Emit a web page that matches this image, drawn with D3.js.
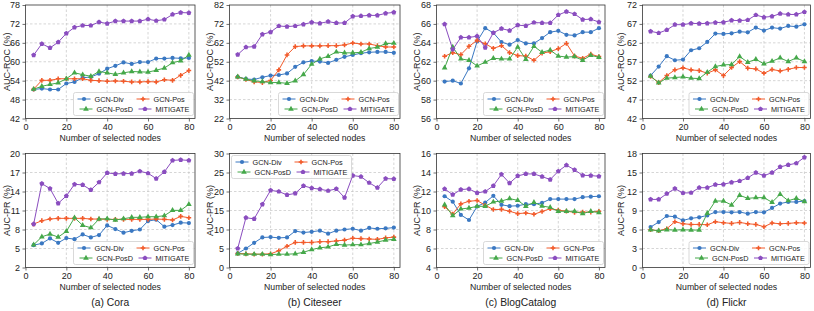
<!DOCTYPE html>
<html><head><meta charset="utf-8">
<script src="https://cdn.jsdelivr.net/npm/d3@7"></script>
<style>
body{margin:0;background:#fff;}
svg text{font-family:"Liberation Sans",Arial,sans-serif;fill:#222;}
</style></head>
<body><svg id="chart" width="814" height="311"></svg>
<script>
const nodes = [4,8,12,16,20,24,28,32,36,40,44,48,52,56,60,64,68,72,76,80];
const seriesNames = ["GCN-Div","GCN-Pos","GCN-PosD","MITIGATE"];
const captions = ["(a) Cora","(b) Citeseer","(c) BlogCatalog","(d) Flickr"];

// Cora AUC-ROC
const coraRocDiv  = [51.2,51.5,51.2,51.2,53.1,53.6,54.9,55.2,56.2,57.8,58.7,59.8,59.3,59.9,59.9,61.0,61.0,61.2,61.1,61.2];
const coraRocPos  = [51.3,54.1,54.1,54.6,54.6,54.6,54.6,54.1,54.0,53.8,53.9,53.8,53.6,53.6,53.7,53.6,54.3,54.1,55.7,57.2];
const coraRocPosD = [51.3,52.2,52.8,53.3,54.6,56.5,55.9,55.4,56.9,56.5,56.0,56.5,56.9,56.8,56.7,57.3,58.0,59.7,60.3,62.1];
const coraRocMit  = [62.1,65.7,64.4,66.2,69.0,70.9,71.5,71.5,72.6,72.1,72.9,72.9,72.9,72.9,73.5,73.0,73.4,75.0,75.6,75.5];
// Citeseer AUC-ROC
const citeRocDiv  = [44.0,42.9,42.6,43.8,44.7,45.0,45.8,49.3,51.7,52.4,52.1,51.4,53.0,54.6,55.6,56.5,57.0,57.2,57.2,56.7];
const citeRocPos  = [44.0,42.6,41.4,41.0,42.1,47.7,55.6,60.0,60.4,60.4,60.4,60.5,60.5,60.9,61.9,61.4,61.4,60.5,59.8,59.8];
const citeRocPosD = [44.0,42.8,41.9,41.5,41.0,41.0,40.6,41.9,45.2,50.7,53.5,54.9,57.2,56.7,56.7,57.0,59.0,59.7,61.6,61.8];
const citeRocMit  = [55.8,59.7,60.0,66.5,67.7,70.9,70.6,70.9,71.8,72.8,72.3,73.2,72.5,72.5,76.0,76.2,76.5,76.5,77.6,78.1];
// BlogCatalog AUC-ROC
const blogRocDiv  = [59.9,60.0,59.7,61.3,64.15,65.55,65.06,64.08,63.8,64.3,63.94,63.94,64.5,65.13,65.27,64.85,64.78,65.13,65.13,65.55];
const blogRocPos  = [62.58,62.96,62.75,63.63,64.26,63.9,63.42,63.7,62.96,62.65,62.6,62.16,62.9,63.07,63.38,63.94,62.6,62.37,62.8,62.54];
const blogRocPosD = [61.35,63.56,62.3,62.16,61.56,61.95,62.37,62.3,62.3,63.56,62.26,63.63,63.0,63.24,62.6,62.5,62.54,62.16,62.68,62.47];
const blogRocMit  = [65.97,63.3,64.57,64.57,64.7,63.5,65.06,65.5,65.3,65.87,65.8,66.15,66.1,66.1,66.95,67.3,67.05,66.46,66.5,66.2];
// Flickr AUC-ROC
const flickRocDiv  = [53.35,55.73,58.46,57.4,57.58,60.04,60.57,62.24,64.44,64.35,64.52,64.96,64.79,66.02,65.23,66.02,65.76,66.46,66.28,66.9];
const flickRocPos  = [53.1,51.5,53.35,54.85,55.38,54.85,54.67,53.97,54.85,53.35,55.47,57.05,55.3,55.1,53.97,54.94,54.59,55.0,55.47,55.47];
const flickRocPosD = [53.18,51.42,52.65,52.83,53.0,52.65,52.56,54.23,55.73,56.17,56.26,58.37,56.87,57.66,56.43,57.14,58.02,57.05,58.02,57.05];
const flickRocMit  = [65.05,64.6,65.4,66.8,66.8,67.16,67.07,67.16,67.34,67.43,67.95,67.87,68.04,69.36,68.75,69.0,69.7,69.5,69.5,70.15];
// Cora AUC-PR
const coraPrDiv  = [5.53,5.8,6.59,5.9,6.64,6.48,7.22,6.75,7.12,8.65,8.07,7.49,7.8,8.0,9.33,9.55,8.44,8.7,9.07,9.02];
const coraPrPos  = [8.86,9.39,9.65,9.76,9.76,9.76,9.76,9.65,9.65,9.6,9.6,9.6,9.6,9.6,9.6,9.65,9.6,9.5,10.07,9.86];
const coraPrPosD = [5.59,6.85,7.28,6.8,7.7,9.86,8.65,8.28,9.65,9.7,9.5,9.7,9.92,9.92,10.02,10.02,10.18,11.02,11.02,11.97];
const coraPrMit  = [8.86,15.25,14.46,12.13,13.3,15.14,15.04,14.25,15.46,16.94,16.78,16.83,16.83,17.2,16.88,16.04,17.1,18.9,19.0,18.9];
// Citeseer AUC-PR
const citePrDiv  = [3.7,5.0,6.5,7.9,8.0,7.8,7.9,9.6,9.2,9.4,9.7,8.9,9.7,10.0,10.2,9.7,10.4,10.2,10.3,10.5];
const citePrPos  = [3.7,3.6,3.5,3.5,3.6,4.4,5.6,6.6,6.6,6.6,6.8,6.8,7.0,7.2,7.7,7.6,7.5,7.4,7.8,8.0];
const citePrPosD = [3.6,3.5,3.5,3.5,3.4,3.5,3.5,3.6,4.0,4.7,5.2,5.4,6.1,5.9,6.0,6.0,6.3,6.7,7.2,7.4];
const citePrMit  = [5.0,13.1,12.8,16.6,20.3,20.0,19.1,19.5,21.5,20.9,20.6,20.2,20.7,18.4,24.2,23.9,22.3,21.0,23.4,23.3];
// BlogCatalog AUC-PR
const blogPrDiv  = [11.5,10.93,9.53,9.0,10.42,10.84,11.55,10.6,10.46,10.5,10.67,10.67,10.8,11.2,11.2,11.2,11.2,11.4,11.46,11.5];
const blogPrPos  = [10.4,9.63,10.7,10.97,11.05,10.55,10.1,10.12,9.92,9.67,9.74,9.6,9.9,10.18,10.04,9.93,9.8,9.83,9.83,9.92];
const blogPrPosD = [10.6,9.45,10.16,10.26,10.44,10.44,10.9,11.0,11.25,11.07,10.44,10.86,10.47,10.33,9.92,9.92,9.92,9.67,9.92,9.78];
const blogPrMit  = [12.27,11.67,12.2,12.27,11.85,12.0,12.6,13.8,12.88,13.64,13.85,13.85,13.57,13.26,14.13,14.77,14.28,13.7,13.68,13.6];
// Flickr AUC-PR
const flickPrDiv  = [6.38,7.18,8.13,8.02,7.44,7.76,7.92,8.23,8.76,8.76,8.71,8.76,8.5,8.76,8.71,9.4,10.1,10.35,10.35,10.5];
const flickPrPos  = [5.96,5.8,6.12,7.23,6.91,6.8,6.8,6.75,7.23,7.07,6.96,7.12,6.91,6.8,6.44,7.02,6.91,6.96,7.07,7.02];
const flickPrPosD = [5.96,5.8,5.96,5.91,5.96,5.91,5.91,8.55,10.5,10.5,9.87,11.4,10.92,11.03,11.03,10.3,11.56,10.55,10.92,10.4];
const flickPrMit  = [10.75,10.75,11.65,12.45,11.76,11.8,12.6,12.6,13.08,13.13,13.45,13.66,14.14,14.98,14.5,14.98,15.88,16.2,16.46,17.4];

// tick labels
const xTicks = [0,20,40,60,80];
const coraRocTicks  = [42,48,54,60,66,72,78];
const citeRocTicks  = [22,32,42,52,62,72,82];
const blogRocTicks  = [56,58,60,62,64,66,68];
const flickRocTicks = [42,47,52,57,62,67,72];
const coraPrTicks   = [2,5,8,11,14,17,20];
const citePrTicks   = [0,5,10,15,20,25,30];
const blogPrTicks   = [4,6,8,10,12,14,16];
const flickPrTicks  = [0,3,6,9,12,15,18];

const colors = ["#3a78c2","#f25a2a","#45a84a","#8a4dbf"];

const panels = [
  {row:0,col:0,ylab:"AUC-ROC (%)",ticks:coraRocTicks,data:[coraRocDiv,coraRocPos,coraRocPosD,coraRocMit],leg:"br"},
  {row:0,col:1,ylab:"AUC-ROC (%)",ticks:citeRocTicks,data:[citeRocDiv,citeRocPos,citeRocPosD,citeRocMit],leg:"br"},
  {row:0,col:2,ylab:"AUC-ROC (%)",ticks:blogRocTicks,data:[blogRocDiv,blogRocPos,blogRocPosD,blogRocMit],leg:"br"},
  {row:0,col:3,ylab:"AUC-ROC (%)",ticks:flickRocTicks,data:[flickRocDiv,flickRocPos,flickRocPosD,flickRocMit],leg:"br"},
  {row:1,col:0,ylab:"AUC-PR (%)",ticks:coraPrTicks,data:[coraPrDiv,coraPrPos,coraPrPosD,coraPrMit],leg:"br"},
  {row:1,col:1,ylab:"AUC-PR (%)",ticks:citePrTicks,data:[citePrDiv,citePrPos,citePrPosD,citePrMit],leg:"tl"},
  {row:1,col:2,ylab:"AUC-PR (%)",ticks:blogPrTicks,data:[blogPrDiv,blogPrPos,blogPrPosD,blogPrMit],leg:"br"},
  {row:1,col:3,ylab:"AUC-PR (%)",ticks:flickPrTicks,data:[flickPrDiv,flickPrPos,flickPrPosD,flickPrMit],leg:"br"}
];

const colLeft  = [25.5, 229.5, 436.5, 642.5];
const colRight = [195, 400, 605, 810.5];
const ylabX    = [6.5, 209.5, 416.5, 620.5];
const rowTop   = [5, 153.5];
const rowBot   = [118.5, 267.5];

const svg = d3.select("#chart");

const symbols = [d3.symbolCircle, d3.symbolCross, d3.symbolTriangle, null];
const symSizes = [14, 12, 14, 18];
function pentagon(r){
  const pts=[];
  for(let i=0;i<5;i++){const a=-Math.PI/2+i*2*Math.PI/5;pts.push([r*Math.cos(a),r*Math.sin(a)]);}
  return "M"+pts.map(p=>p.join(",")).join("L")+"Z";
}
function markerPath(i){
  if(i===3) return pentagon(2.6);
  return d3.symbol().type(symbols[i]).size(symSizes[i])();
}

panels.forEach(p=>{
  const L=colLeft[p.col], R=colRight[p.col], T=rowTop[p.row], B=rowBot[p.row];
  const x=d3.scaleLinear().domain([0,83]).range([L,R]);
  const y=d3.scaleLinear().domain([p.ticks[0],p.ticks[p.ticks.length-1]]).range([B,T]);
  const g=svg.append("g");
  // grid
  g.append("g").selectAll("line").data(p.ticks.slice(1,-1)).join("line")
    .attr("x1",L).attr("x2",R).attr("y1",d=>y(d)).attr("y2",d=>y(d))
    .attr("stroke","#c4c4c4").attr("stroke-width",0.7).attr("stroke-dasharray","2.5,2");
  g.append("g").selectAll("line").data(xTicks.slice(1)).join("line")
    .attr("x1",d=>x(d)).attr("x2",d=>x(d)).attr("y1",T).attr("y2",B)
    .attr("stroke","#c4c4c4").attr("stroke-width",0.7).attr("stroke-dasharray","2.5,2");
  // axes
  const xa=g.append("g").attr("transform",`translate(0,${B})`)
    .call(d3.axisBottom(x).tickValues(xTicks).tickSize(3).tickPadding(2).tickFormat(d3.format("d")));
  const ya=g.append("g").attr("transform",`translate(${L},0)`)
    .call(d3.axisLeft(y).tickValues(p.ticks).tickSize(3).tickPadding(2.5).tickFormat(d3.format("d")));
  [xa,ya].forEach(a=>{
    a.select(".domain").remove();
    a.selectAll("line").attr("stroke","#333").attr("stroke-width",0.7);
    a.selectAll("text").attr("font-size","9px").attr("fill","#222")
      .attr("font-family","'Liberation Sans',Arial,sans-serif");
  });
  // frame
  g.append("rect").attr("x",L).attr("y",T).attr("width",R-L).attr("height",B-T)
    .attr("fill","none").attr("stroke","#333").attr("stroke-width",0.8);
  // labels
  g.append("text").attr("x",(L+R)/2).attr("y",B+22.5).attr("text-anchor","middle")
    .attr("font-size","8.7px").text("Number of selected nodes");
  g.append("text").attr("transform",`translate(${ylabX[p.col]},${(T+B)/2}) rotate(-90)`)
    .attr("text-anchor","middle").attr("dominant-baseline","central")
    .attr("font-size","9px").text(p.ylab);
  if(p.row===1){
    g.append("text").attr("x",(L+R)/2).attr("y",B+38.5).attr("text-anchor","middle")
      .attr("font-size","10.3px").text(captions[p.col]);
  }
  // series
  const line=d3.line().x((d,i)=>x(nodes[i])).y(d=>y(d));
  p.data.forEach((arr,si)=>{
    g.append("path").datum(arr).attr("d",line).attr("fill","none")
      .attr("stroke",colors[si]).attr("stroke-width",1);
    g.append("g").selectAll("path").data(arr).join("path")
      .attr("transform",(d,i)=>`translate(${x(nodes[i])},${y(d)})`)
      .attr("d",markerPath(si)).attr("fill",colors[si]);
  });
  // legend
  const lw=120, lh=23;
  const lx = p.leg==="br" ? R-lw-1.5 : L+2;
  const ly = p.leg==="br" ? B-lh-3 : T+2;
  const lg=g.append("g").attr("transform",`translate(${lx},${ly})`);
  lg.append("rect").attr("width",lw).attr("height",lh).attr("rx",2)
    .attr("fill","rgba(255,255,255,0.85)").attr("stroke","#cfcfcf").attr("stroke-width",0.8);
  seriesNames.forEach((nm,si)=>{
    const r=Math.floor(si/2), c=si%2;
    const ox = (c===0?4:63) + (r===1?2:0);
    const oy = 6.5 + r*10;
    lg.append("line").attr("x1",ox).attr("x2",ox+13).attr("y1",oy).attr("y2",oy)
      .attr("stroke",colors[si]).attr("stroke-width",1);
    lg.append("path").attr("transform",`translate(${ox+6.5},${oy})`).attr("d",markerPath(si)).attr("fill",colors[si]);
    lg.append("text").attr("x",ox+17).attr("y",oy).attr("dominant-baseline","central")
      .attr("font-size","7.3px").text(nm);
  });
});
</script></body></html>
